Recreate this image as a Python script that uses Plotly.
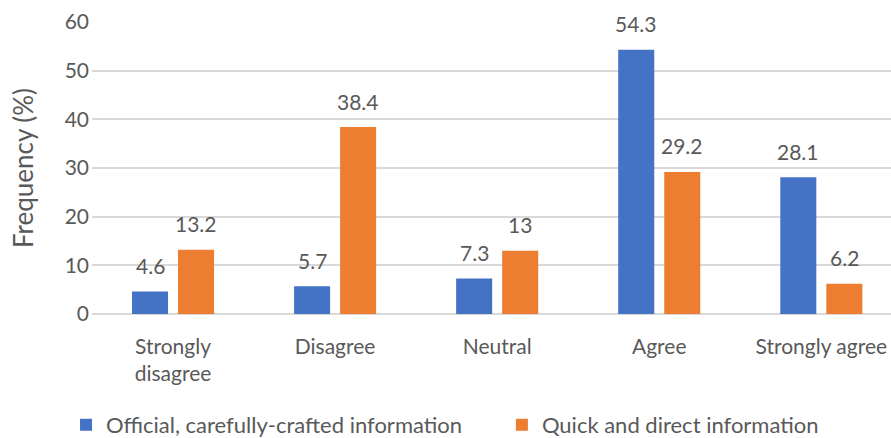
import plotly.graph_objects as go

# Survey responses by agreement level
categories = ["Strongly<br>disagree", "Disagree", "Neutral", "Agree", "Strongly agree"]
official = [4.6, 5.7, 7.3, 54.3, 28.1]
quick = [13.2, 38.4, 13, 29.2, 6.2]
series_names = ["Official, carefully-crafted information", "Quick and direct information"]
y_ticks = [0, 10, 20, 30, 40, 50, 60]

FONT = "Lato, Carlito, Calibri, sans-serif"
GRAY = "#595959"
SIZE = 21
COLORS = ["#4472C4", "#ED7D31"]

xs = list(range(len(categories)))
fig = go.Figure()
for vals, name, color, leg in [(official, series_names[0], COLORS[0], "legend"),
                               (quick, series_names[1], COLORS[1], "legend2")]:
    fig.add_trace(go.Bar(
        x=xs, y=vals, name=name, legend=leg,
        marker=dict(color=color, line=dict(width=0)),
    ))

# value labels above each bar (offset to the left/right bar of the pair)
for vals, dx in [(official, -23), (quick, 23)]:
    for x, v in zip(xs, vals):
        fig.add_annotation(
            x=x, y=v, text=f"{v:g}", showarrow=False, xshift=dx, yshift=26,
            yanchor="middle", font=dict(size=SIZE, color=GRAY, family=FONT),
        )

legend_common = dict(orientation="h", y=-0.38, yanchor="middle", xanchor="left",
                     font=dict(size=22, color=GRAY, family=FONT),
                     itemwidth=30, bgcolor="rgba(0,0,0,0)")

fig.update_layout(
    width=891, height=438,
    margin=dict(l=92, r=0, t=22, b=124, autoexpand=False),
    paper_bgcolor="white", plot_bgcolor="white",
    barmode="group", bargap=0.432, bargroupgap=0.217,
    font=dict(family=FONT, color=GRAY, size=SIZE),
    showlegend=True,
    legend=dict(x=-0.0325, **legend_common),
    legend2=dict(x=0.513, **legend_common),
)
fig.update_xaxes(
    tickmode="array", tickvals=xs, ticktext=categories,
    range=[-0.5, 4.43], showgrid=False, zeroline=False, showline=False,
    ticks="", ticklabelstandoff=18, tickfont=dict(size=SIZE, color=GRAY, family=FONT),
)
fig.update_yaxes(
    range=[0, 60], tickvals=y_ticks, showgrid=True, gridcolor="#D9D9D9", gridwidth=1.5,
    zeroline=True, zerolinecolor="#D9D9D9", zerolinewidth=1.5, showline=False,
    ticks="", ticklabelstandoff=2, tickfont=dict(size=SIZE, color=GRAY, family=FONT),
    title=dict(text="Frequency (%)", font=dict(size=26, color=GRAY, family=FONT), standoff=23),
)

fig.write_html("out.html")
